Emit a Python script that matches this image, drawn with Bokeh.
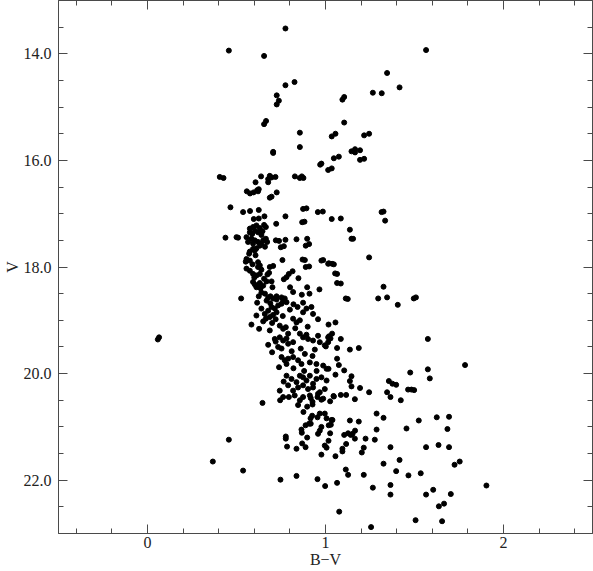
from bokeh.plotting import figure
from bokeh.models import Range1d, LinearAxis, FixedTicker, ColumnDataSource
from bokeh.embed import file_html
from bokeh.resources import INLINE

# ---- data: B-V colour and V magnitude ----
upper_bv = [0.775, 0.457, 0.655, 0.826, 0.775, 0.726, 0.738, 0.726, 1.105, 1.095, 0.666, 0.655, 1.105,
            0.856, 1.035, 1.056, 0.856, 0.706, 0.706, 0.970, 0.977, 1.047, 1.075, 1.015, 1.035, 0.406,
            0.427, 0.638, 0.607, 0.678, 0.687, 0.678, 0.719, 0.697, 0.828, 0.856, 0.867, 0.876, 0.558,
            0.576, 0.596, 0.616, 0.625, 0.621, 0.726, 0.687, 0.697, 1.565, 1.346, 1.416, 1.266, 1.316,
            1.217, 1.245, 1.146, 1.166, 1.166, 1.194, 1.194, 1.217]
upper_v = [13.525, 13.94, 14.04, 14.53, 14.59, 14.78, 14.88, 14.95, 14.81, 14.86, 15.26, 15.32, 15.29,
           15.48, 15.55, 15.50, 15.75, 15.84, 15.86, 16.08, 16.06, 15.96, 15.93, 16.18, 16.15, 16.31,
           16.33, 16.30, 16.41, 16.35, 16.29, 16.41, 16.31, 16.32, 16.30, 16.33, 16.30, 16.33, 16.58,
           16.62, 16.60, 16.56, 16.54, 16.58, 16.60, 16.70, 16.68, 13.93, 14.36, 14.63, 14.73, 14.74,
           15.53, 15.50, 15.83, 15.79, 15.85, 15.81, 15.99, 15.97]

subgiant_bv = [0.466, 0.537, 0.576, 0.625, 0.597, 0.625, 0.657, 0.723, 0.775, 0.874, 0.893, 0.957, 0.985,
               0.869, 0.882, 0.575, 0.593, 0.612, 0.631, 0.655, 0.665, 0.603, 0.575, 0.621, 0.646, 0.556,
               0.584, 0.603, 0.621, 0.640, 0.650, 0.665, 0.672, 0.631, 0.593, 0.565, 0.438, 0.500, 0.509,
               0.721, 0.739, 0.775, 0.837, 0.897, 0.749, 0.766, 0.889, 0.908, 0.593, 0.612, 0.575, 0.603,
               0.571, 0.556, 0.575, 0.552, 0.621, 0.631, 0.621, 0.556, 0.575, 0.687, 0.706, 0.758, 0.871,
               0.884, 0.889, 0.908, 0.977, 0.987, 1.015, 0.593, 0.612, 0.631, 0.674, 0.683, 0.815, 0.794,
               0.781, 0.766, 0.848, 0.593, 0.603, 0.621, 0.631, 0.612, 0.635, 0.650, 0.669, 0.697, 0.702,
               0.801, 0.818, 0.897, 0.867, 0.910, 0.966, 0.526, 0.678, 0.691, 0.706, 0.725, 0.753, 0.771,
               1.035, 1.086, 1.137, 1.146, 1.155, 1.315, 1.326, 1.335, 1.245, 1.019, 1.037, 1.047, 1.054,
               1.065, 1.065, 1.086, 1.326, 1.114, 1.125, 1.296, 1.346, 1.496, 1.508,
               0.588, 0.640, 0.660, 0.607, 0.590, 0.640, 0.600, 0.655, 0.640, 0.625, 0.660]
subgiant_v = [16.88, 16.97, 16.95, 16.93, 17.10, 17.09, 17.05, 17.19, 17.05, 16.91, 16.90, 16.97, 16.96,
              17.16, 17.15, 17.28, 17.25, 17.22, 17.27, 17.21, 17.25, 17.32, 17.35, 17.35, 17.33, 17.44,
              17.47, 17.50, 17.53, 17.56, 17.50, 17.47, 17.53, 17.60, 17.56, 17.53, 17.45, 17.44, 17.45,
              17.50, 17.51, 17.49, 17.48, 17.47, 17.63, 17.61, 17.60, 17.57, 17.66, 17.65, 17.71, 17.69,
              17.75, 17.85, 17.88, 17.90, 17.91, 17.97, 18.00, 18.03, 18.07, 18.00, 17.98, 17.87, 17.86,
              17.87, 18.00, 17.99, 17.88, 17.87, 17.94, 18.13, 18.16, 18.13, 18.14, 18.11, 18.08, 18.13,
              18.19, 18.23, 18.21, 18.28, 18.33, 18.36, 18.30, 18.38, 18.40, 18.35, 18.27, 18.27, 18.38,
              18.38, 18.47, 18.38, 18.52, 18.50, 18.42, 18.59, 18.57, 18.55, 18.59, 18.55, 18.57, 18.59,
              17.10, 17.09, 17.30, 17.47, 17.47, 16.97, 16.96, 17.13, 17.82, 17.93, 17.94, 17.95, 18.12,
              18.13, 18.30, 18.31, 18.37, 18.59, 18.60, 18.59, 18.57, 18.59, 18.57,
              17.38, 17.40, 17.62, 17.78, 17.95, 18.05, 18.20, 18.22, 18.48, 18.55, 18.50]

turnoff_bv = [0.065, 0.058, 0.616, 0.640, 0.669, 0.725, 0.762, 0.781, 0.659, 0.678, 0.697, 0.715, 0.734,
              0.753, 0.665, 0.687, 0.725, 0.612, 0.584, 0.627, 0.687, 0.678, 0.743, 0.762, 0.777, 0.818,
              0.837, 0.856, 0.874, 0.893, 0.921, 0.930, 0.958, 0.843, 0.874, 0.715, 0.743, 0.762, 0.781,
              0.734, 0.753, 0.790, 0.818, 0.856, 0.874, 0.893, 0.902, 0.930, 0.958, 0.968, 0.996, 1.015,
              0.861, 0.884, 0.927, 0.753, 0.771, 0.790, 0.739, 0.781, 0.818, 0.846, 0.865, 0.912, 0.949,
              0.987, 1.006, 0.781, 0.809, 0.837, 0.856, 0.874, 0.893, 0.912, 0.930, 0.949, 0.977, 0.790,
              0.818, 0.846, 0.874, 0.902, 0.930, 0.968, 0.996, 0.743, 0.762, 0.827, 0.874, 0.912, 0.958,
              0.987, 1.406, 1.017, 1.056, 1.020, 1.037, 1.028, 1.015, 1.002, 1.086, 1.065, 1.137, 1.187,
              1.575, 1.065, 1.075, 1.017, 1.105, 1.784, 1.575, 1.586, 1.476, 1.056, 1.006, 1.146, 1.137,
              1.146, 1.194, 1.245, 1.356, 1.376, 1.397, 1.346, 1.365, 1.464, 1.483, 1.498, 1.045, 1.086,
              1.116, 1.165, 1.423,
              0.690, 0.705, 0.650, 0.700, 0.720, 0.760, 0.800, 0.820, 0.790, 0.830, 0.900, 0.700, 0.720,
              0.810, 0.940, 0.950, 0.880, 0.820, 0.765]
turnoff_v = [19.32, 19.36, 18.67, 18.78, 18.63, 18.61, 18.63, 18.66, 18.88, 18.82, 18.75, 18.78, 18.72,
             18.69, 18.97, 18.94, 18.85, 18.91, 19.08, 19.16, 19.19, 19.46, 19.10, 19.16, 19.13, 18.97,
             19.04, 19.00, 18.85, 18.78, 18.75, 18.88, 18.98, 18.75, 18.67, 19.35, 19.32, 19.38, 19.34,
             19.50, 19.53, 19.44, 19.41, 19.25, 19.32, 19.27, 19.35, 19.38, 19.29, 19.41, 19.47, 19.32,
             19.53, 19.63, 19.67, 19.69, 19.75, 19.72, 19.88, 19.82, 19.69, 19.75, 19.82, 19.79, 19.82,
             19.85, 19.91, 20.04, 20.10, 20.16, 20.04, 20.07, 20.13, 20.04, 20.19, 20.10, 20.07, 20.22,
             20.32, 20.26, 20.22, 20.29, 20.26, 20.35, 20.29, 20.32, 20.44, 20.41, 20.44, 20.41, 20.38,
             20.47, 18.71, 19.08, 19.04, 19.30, 19.25, 19.34, 19.41, 19.49, 19.35, 19.52, 19.55, 19.52,
             19.35, 19.72, 19.84, 19.91, 19.94, 19.84, 19.92, 20.09, 19.98, 20.02, 20.13, 20.05, 20.14,
             20.24, 20.27, 20.35, 20.14, 20.19, 20.21, 20.35, 20.44, 20.30, 20.30, 20.31, 20.42, 20.40,
             20.40, 20.48, 20.50,
             18.68, 18.90, 19.02, 19.05, 18.98, 18.92, 18.80, 18.70, 19.25, 19.15, 19.12, 19.60, 19.40,
             19.58, 19.55, 19.95, 19.95, 19.90, 20.15]

faint_bv = [0.646, 0.745, 0.794, 0.846, 0.856, 0.897, 0.917, 0.927, 0.927, 0.955, 0.977, 1.026, 1.047,
            0.876, 0.916, 0.925, 0.955, 0.968, 0.996, 1.006, 1.034, 0.888, 0.908, 0.917, 0.977, 1.018,
            1.030, 0.865, 0.867, 0.968, 0.958, 1.026, 0.897, 0.777, 0.777, 0.869, 0.888, 0.784, 0.837,
            0.996, 1.006, 1.017, 0.977, 1.056, 0.457, 0.367, 0.537, 0.747, 0.837, 0.955, 0.998, 1.065,
            1.077, 1.287, 1.326, 1.039, 1.137, 1.187, 1.524, 1.625, 1.694, 1.455, 1.685, 1.105, 1.127,
            1.142, 1.152, 1.166, 1.165, 1.225, 1.277, 1.287, 1.116, 1.095, 1.095, 1.215, 1.204, 1.365,
            1.565, 1.635, 1.694, 1.416, 1.326, 1.725, 1.754, 1.114, 1.127, 1.215, 1.397, 1.466, 1.535,
            1.266, 1.365, 1.365, 1.605, 1.565, 1.704, 1.904, 1.637, 1.666, 1.506, 1.655, 1.256]
faint_v = [20.55, 20.50, 20.44, 20.59, 20.50, 20.62, 20.46, 20.53, 20.58, 20.44, 20.49, 20.52, 20.43,
           20.72, 20.84, 20.79, 20.82, 20.75, 20.75, 20.84, 20.87, 20.97, 20.94, 20.94, 21.00, 20.97,
           20.96, 21.05, 21.11, 21.07, 21.13, 21.12, 21.20, 21.18, 21.22, 21.31, 21.38, 21.37, 21.41,
           21.35, 21.39, 21.26, 21.52, 21.55, 21.24, 21.65, 21.82, 21.99, 21.92, 21.98, 22.11, 22.05,
           22.59, 20.75, 20.83, 20.87, 20.88, 20.90, 20.88, 20.82, 20.81, 21.03, 21.04, 21.15, 21.12,
           21.15, 21.13, 21.07, 21.22, 21.22, 21.24, 21.05, 21.32, 21.41, 21.46, 21.39, 21.48, 21.38,
           21.38, 21.34, 21.38, 21.62, 21.69, 21.71, 21.65, 21.80, 21.90, 21.90, 21.83, 21.91, 21.87,
           22.14, 22.09, 22.27, 22.18, 22.27, 22.26, 22.10, 22.49, 22.44, 22.75, 22.77, 22.88]

x_major = [0, 1, 2]
x_minor = [-0.4, -0.2, 0.2, 0.4, 0.6, 0.8, 1.2, 1.4, 1.6, 1.8, 2.2, 2.4]
y_major = [14, 16, 18, 20, 22]
y_minor = [13.5, 14.5, 15.0, 15.5, 16.5, 17.0, 17.5, 18.5, 19.0, 19.5, 20.5, 21.0, 21.5, 22.5]
y_labels = {14: "14.0", 16: "16.0", 18: "18.0", 20: "20.0", 22: "22.0"}

all_bv = upper_bv + subgiant_bv + turnoff_bv + faint_bv
all_v = upper_v + subgiant_v + turnoff_v + faint_v
src = ColumnDataSource(dict(bv=all_bv, v=all_v))

FONT = "Liberation Serif"
AX = "#4a4a4a"

p = figure(width=593, height=571, output_backend="svg", toolbar_location=None,
           x_range=Range1d(-0.5, 2.5), y_range=Range1d(23.0, 13.0),
           x_axis_location=None, y_axis_location=None,
           min_border_left=58, min_border_right=1, min_border_top=0, min_border_bottom=38)
p.grid.visible = False
p.outline_line_color = AX
p.background_fill_color = "white"
p.border_fill_color = "white"


def style(ax, labelled):
    ax.axis_line_color = AX
    ax.major_tick_line_color = AX
    ax.minor_tick_line_color = AX
    ax.major_tick_in = 9
    ax.major_tick_out = 0
    ax.minor_tick_in = 5
    ax.minor_tick_out = 0
    ax.major_label_text_font = FONT
    ax.axis_label_text_font = FONT
    ax.axis_label_text_font_style = "normal"
    ax.major_label_text_color = "#222222"
    ax.axis_label_text_color = "#222222"
    if labelled:
        ax.major_label_text_font_size = "16px"
        ax.axis_label_text_font_size = "16px"
    else:
        ax.major_label_text_font_size = "1px"
        ax.major_label_standoff = 0


xb = LinearAxis(ticker=FixedTicker(ticks=x_major, minor_ticks=x_minor), axis_label="B\u2212V")
style(xb, True)
xb.major_label_standoff = 3
xb.axis_label_standoff = 0
p.add_layout(xb, "below")

xt = LinearAxis(ticker=FixedTicker(ticks=x_major, minor_ticks=x_minor))
style(xt, False)
xt.major_label_overrides = {t: "" for t in x_major}
p.add_layout(xt, "above")

yl = LinearAxis(ticker=FixedTicker(ticks=y_major, minor_ticks=y_minor), axis_label="V")
style(yl, True)
yl.major_label_overrides = y_labels
yl.major_label_standoff = 7
yl.axis_label_standoff = 0
p.add_layout(yl, "left")

yr = LinearAxis(ticker=FixedTicker(ticks=y_major, minor_ticks=y_minor))
style(yr, False)
yr.major_label_overrides = {t: "" for t in y_major}
p.add_layout(yr, "right")

p.scatter("bv", "v", source=src, size=5, marker="circle", fill_color="black", line_color="black")

open("out.html", "w").write(file_html(p, INLINE))
